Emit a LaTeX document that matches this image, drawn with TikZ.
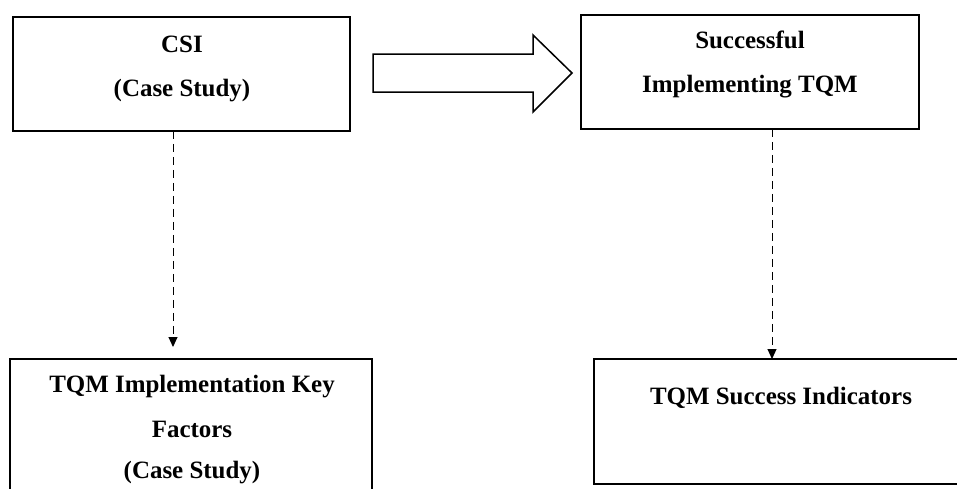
\documentclass[tikz,border=0pt]{standalone}
\usepackage{fontspec}
\setmainfont{Liberation Serif}
\usetikzlibrary{arrows.meta}

\begin{document}
\begin{tikzpicture}[x=0.02cm, y=-0.02cm,
  box/.style={draw=black, line width=0.04cm, inner sep=0pt, outer sep=0pt},
  lbl/.style={text=black, anchor=base, inner sep=0pt, font=\fontsize{14.2}{17}\selectfont\bfseries},
  flow/.style={black, line width=0.02cm, dash pattern=on 0.16cm off 0.1cm, -{Triangle[width=0.18cm,length=0.2cm]}}]

\clip (0,0) rectangle (957,488);

% boxes
\node[box, minimum width=6.74cm, minimum height=2.28cm] (csi) at (181.5,74) {};
\node[box, minimum width=6.76cm, minimum height=2.28cm] (tqm) at (750,72) {};
\node[box, minimum width=7.24cm, minimum height=3.22cm] (kf) at (191,439.5) {};
\node[box, minimum width=7.62cm, minimum height=2.5cm] (sind) at (784.5,421.5) {};

% texts
\path (182,52) node[lbl] (csiA) {CSI};
\path (182,96) node[lbl] (csiB) {(Case Study)};
\path (750,48) node[lbl] (tqmA) {Successful};
\path (750,92) node[lbl] (tqmB) {Implementing TQM};
\path (192,392) node[lbl] (kfA) {TQM Implementation Key};
\path (192,437) node[lbl] (kfB) {Factors};
\path (192,478) node[lbl] (kfC) {(Case Study)};
\path (781,404) node[lbl] (sindA) {TQM Success Indicators};

% big arrow
\draw[black, line width=0.03cm, line join=miter] (373,54) -- (533,54) -- (533,35) -- (572,73) -- (533,112) -- (533,92) -- (373,92) -- cycle;

% dashed links
\coordinate (kfTip) at (173,347);
\coordinate (sindTip) at (772,359);
\draw[flow] (csi.south -| kfTip) -- (kfTip);
\draw[flow] (tqm.south -| sindTip) -- (sindTip);

\end{tikzpicture}
\end{document}
